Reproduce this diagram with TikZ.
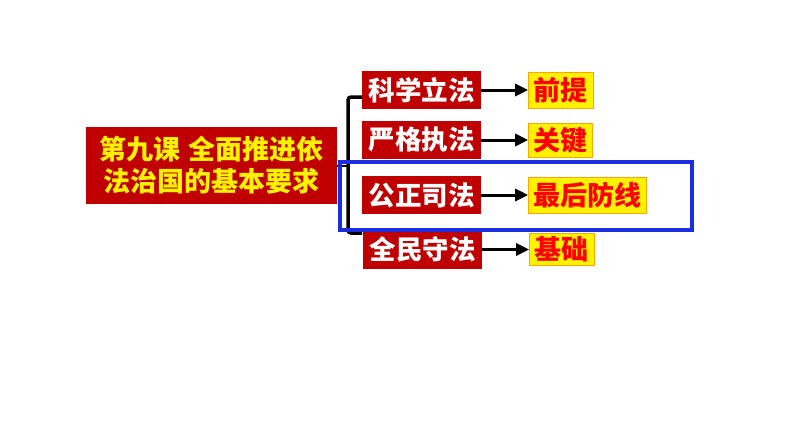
\documentclass[tikz,border=0pt]{standalone}
\usepackage{fontspec}
\setmainfont{Noto Sans CJK SC}
\usetikzlibrary{positioning,arrows.meta}
\definecolor{boxred}{RGB}{192,0,0}
\definecolor{tagred}{RGB}{255,0,0}
\definecolor{framblue}{RGB}{25,45,225}

\begin{document}
\begin{tikzpicture}[x=1pt,y=-1pt,
  lawbox/.style={rectangle,fill=boxred,text=white,inner sep=0pt,
              minimum width=119pt, minimum height=38pt,
              font=\fontsize{26.5}{26.5}\selectfont\bfseries},
  tagbox/.style={rectangle,fill=yellow,draw=orange!70!yellow,thin,
              text=tagred,inner sep=0pt, minimum height=36pt,
              font=\fontsize{27}{27}\selectfont\bfseries},
  node distance=47pt
]
  \useasboundingbox (0,0) rectangle (794,447);

  \node[rectangle,fill=boxred,text=yellow,align=center,inner sep=0pt,
        minimum width=251pt,minimum height=77pt,
        font=\fontsize{27}{32}\selectfont\bfseries]
        (lesson) at (211.5,165.5) {第九课\hspace{0.3em}全面推进依\\法治国的基本要求};

  \node[lawbox] (law1) at (421.5,90)  {科学立法};
  \node[lawbox] (law2) at (421.5,140) {严格执法};
  \node[lawbox] (law3) at (421.5,195) {公正司法};
  \node[lawbox] (law4) at (422.5,249.5) {全民守法};

  \node[tagbox, right=of law1, minimum width=65pt]  (tag1) {前提};
  \node[tagbox, right=of law2, minimum width=64pt,
        minimum height=34pt]                      (tag2) {关键};
  \node[tagbox, right=of law3, minimum width=118pt] (tag3) {最后防线};
  \node[tagbox, right=of law4, minimum width=65pt,
        minimum height=32pt]                      (tag4) {基础};

  % bracket
  \coordinate (top) at (362,97);
  \coordinate (bot) at (362,233);
  \coordinate (mid) at (348,165.5);
  \draw[line width=3.5pt,rounded corners=3pt]
    (top) -- (348,97) -- (348,233) -- (bot);
  \draw[line width=2pt] (lesson.east) -- (mid);

  \foreach \i in {1,...,4}
    \draw[line width=3pt,-{Triangle[length=13pt,width=12pt]}]
      (law\i.east) -- (tag\i.west);

  % highlight
  \draw[framblue,line width=4pt] (340,162) rectangle (692,230);
\end{tikzpicture}
\end{document}
